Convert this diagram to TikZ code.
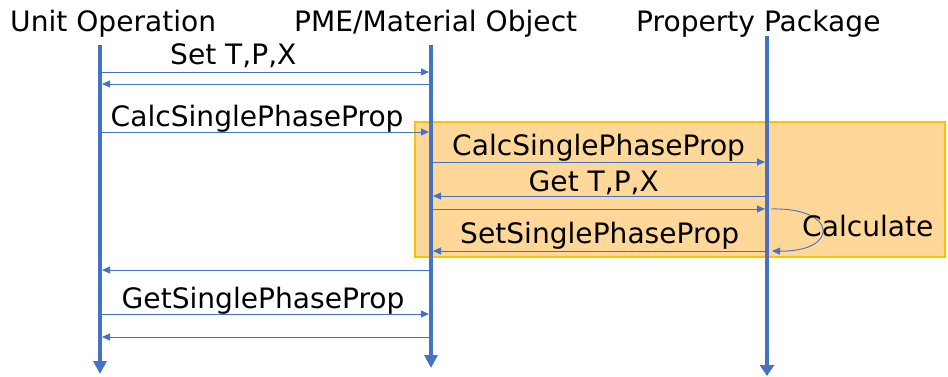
\documentclass[tikz,border=0pt]{standalone}
\usepackage{fontspec}
\setmainfont{DejaVu Sans}
\usetikzlibrary{arrows.meta}
\definecolor{lineblue}{HTML}{4472C4}
\definecolor{boxfill}{HTML}{FFD899}
\definecolor{boxedge}{HTML}{FFC000}
\begin{document}
\begin{tikzpicture}[x=1pt,y=-1pt,
  lifeline/.style={lineblue, line width=3.8pt, -{Triangle[length=13pt,width=13pt]}},
  msg/.style={lineblue, line width=0.9pt, -{Triangle[length=8pt,width=7pt]},
              shorten >=2pt, shorten <=2pt},
  lbl/.style={anchor=base west, inner sep=0pt, font=\fontsize{28.1}{30}\selectfont, text=black},
  region/.style={fill=boxfill, draw=boxedge, line width=1.3pt}]
\useasboundingbox (0,0) rectangle (948,377);

% highlighted calculation region
\draw[region] (415,122) rectangle (945,257);

% participant headers
\node[lbl] (hUO)  at (10,32)  {Unit Operation};
\node[lbl] (hPME) at (294,32) {PME/Material Object};
\node[lbl] (hPP)  at (636,32) {Property Package};

% lifelines
\coordinate (uoTop)  at (100,45);  \coordinate (uoEnd)  at (100,374);
\coordinate (pmeTop) at (431,45);  \coordinate (pmeEnd) at (431,368);
\coordinate (ppTop)  at (767,36);  \coordinate (ppEnd)  at (767,376);
\draw[lifeline] (uoTop) -- (uoEnd);
\draw[lifeline] (pmeTop) -- (pmeEnd);
\draw[lifeline, -{Triangle[length=11pt,width=14pt]}] (ppTop) -- (ppEnd);

% message end points
\coordinate (m1u) at (100,72);   \coordinate (m1p) at (431,72);
\coordinate (m2u) at (100,84);   \coordinate (m2p) at (431,84);
\coordinate (m3u) at (100,132);  \coordinate (m3p) at (431,132);
\coordinate (m4p) at (431,162);  \coordinate (m4k) at (767,162);
\coordinate (m5p) at (431,196);  \coordinate (m5k) at (767,196);
\coordinate (m6p) at (431,209);  \coordinate (m6k) at (767,209);
\coordinate (m7p) at (431,251);  \coordinate (m7k) at (767,251);
\coordinate (m8u) at (100,270);  \coordinate (m8p) at (431,270);
\coordinate (m9u) at (100,314);  \coordinate (m9p) at (431,314);
\coordinate (m10u) at (100,337); \coordinate (m10p) at (431,337);
\coordinate (loopS) at (771,209); \coordinate (loopE) at (772,251);

% messages
\draw[msg] (m1u) -- (m1p);
\draw[msg] (m2p) -- (m2u);
\draw[msg] (m3u) -- (m3p);
\draw[msg] (m4p) -- (m4k);
\draw[msg] (m5k) -- (m5p);
\draw[msg] (m6p) -- (m6k);
\draw[msg] (m7k) -- (m7p);
\draw[msg] (m8p) -- (m8u);
\draw[msg] (m9u) -- (m9p);
\draw[msg] (m10p) -- (m10u);
\draw[msg, shorten <=0pt, shorten >=0pt] (loopS) .. controls (838,207) and (840,252) .. (loopE);

% message labels
\node[lbl] (tSet)   at (170,65)    {Set T,P,X};
\node[lbl] (tCalc1) at (110.5,127) {CalcSinglePhaseProp};
\node[lbl] (tCalc2) at (452,156)   {CalcSinglePhaseProp};
\node[lbl] (tGet)   at (528.5,192) {Get T,P,X};
\node[lbl] (tCalc)  at (802,236)   {Calculate};
\node[lbl] (tSetSP) at (460,243)   {SetSinglePhaseProp};
\node[lbl] (tGetSP) at (121.5,308) {GetSinglePhaseProp};
\end{tikzpicture}
\end{document}
